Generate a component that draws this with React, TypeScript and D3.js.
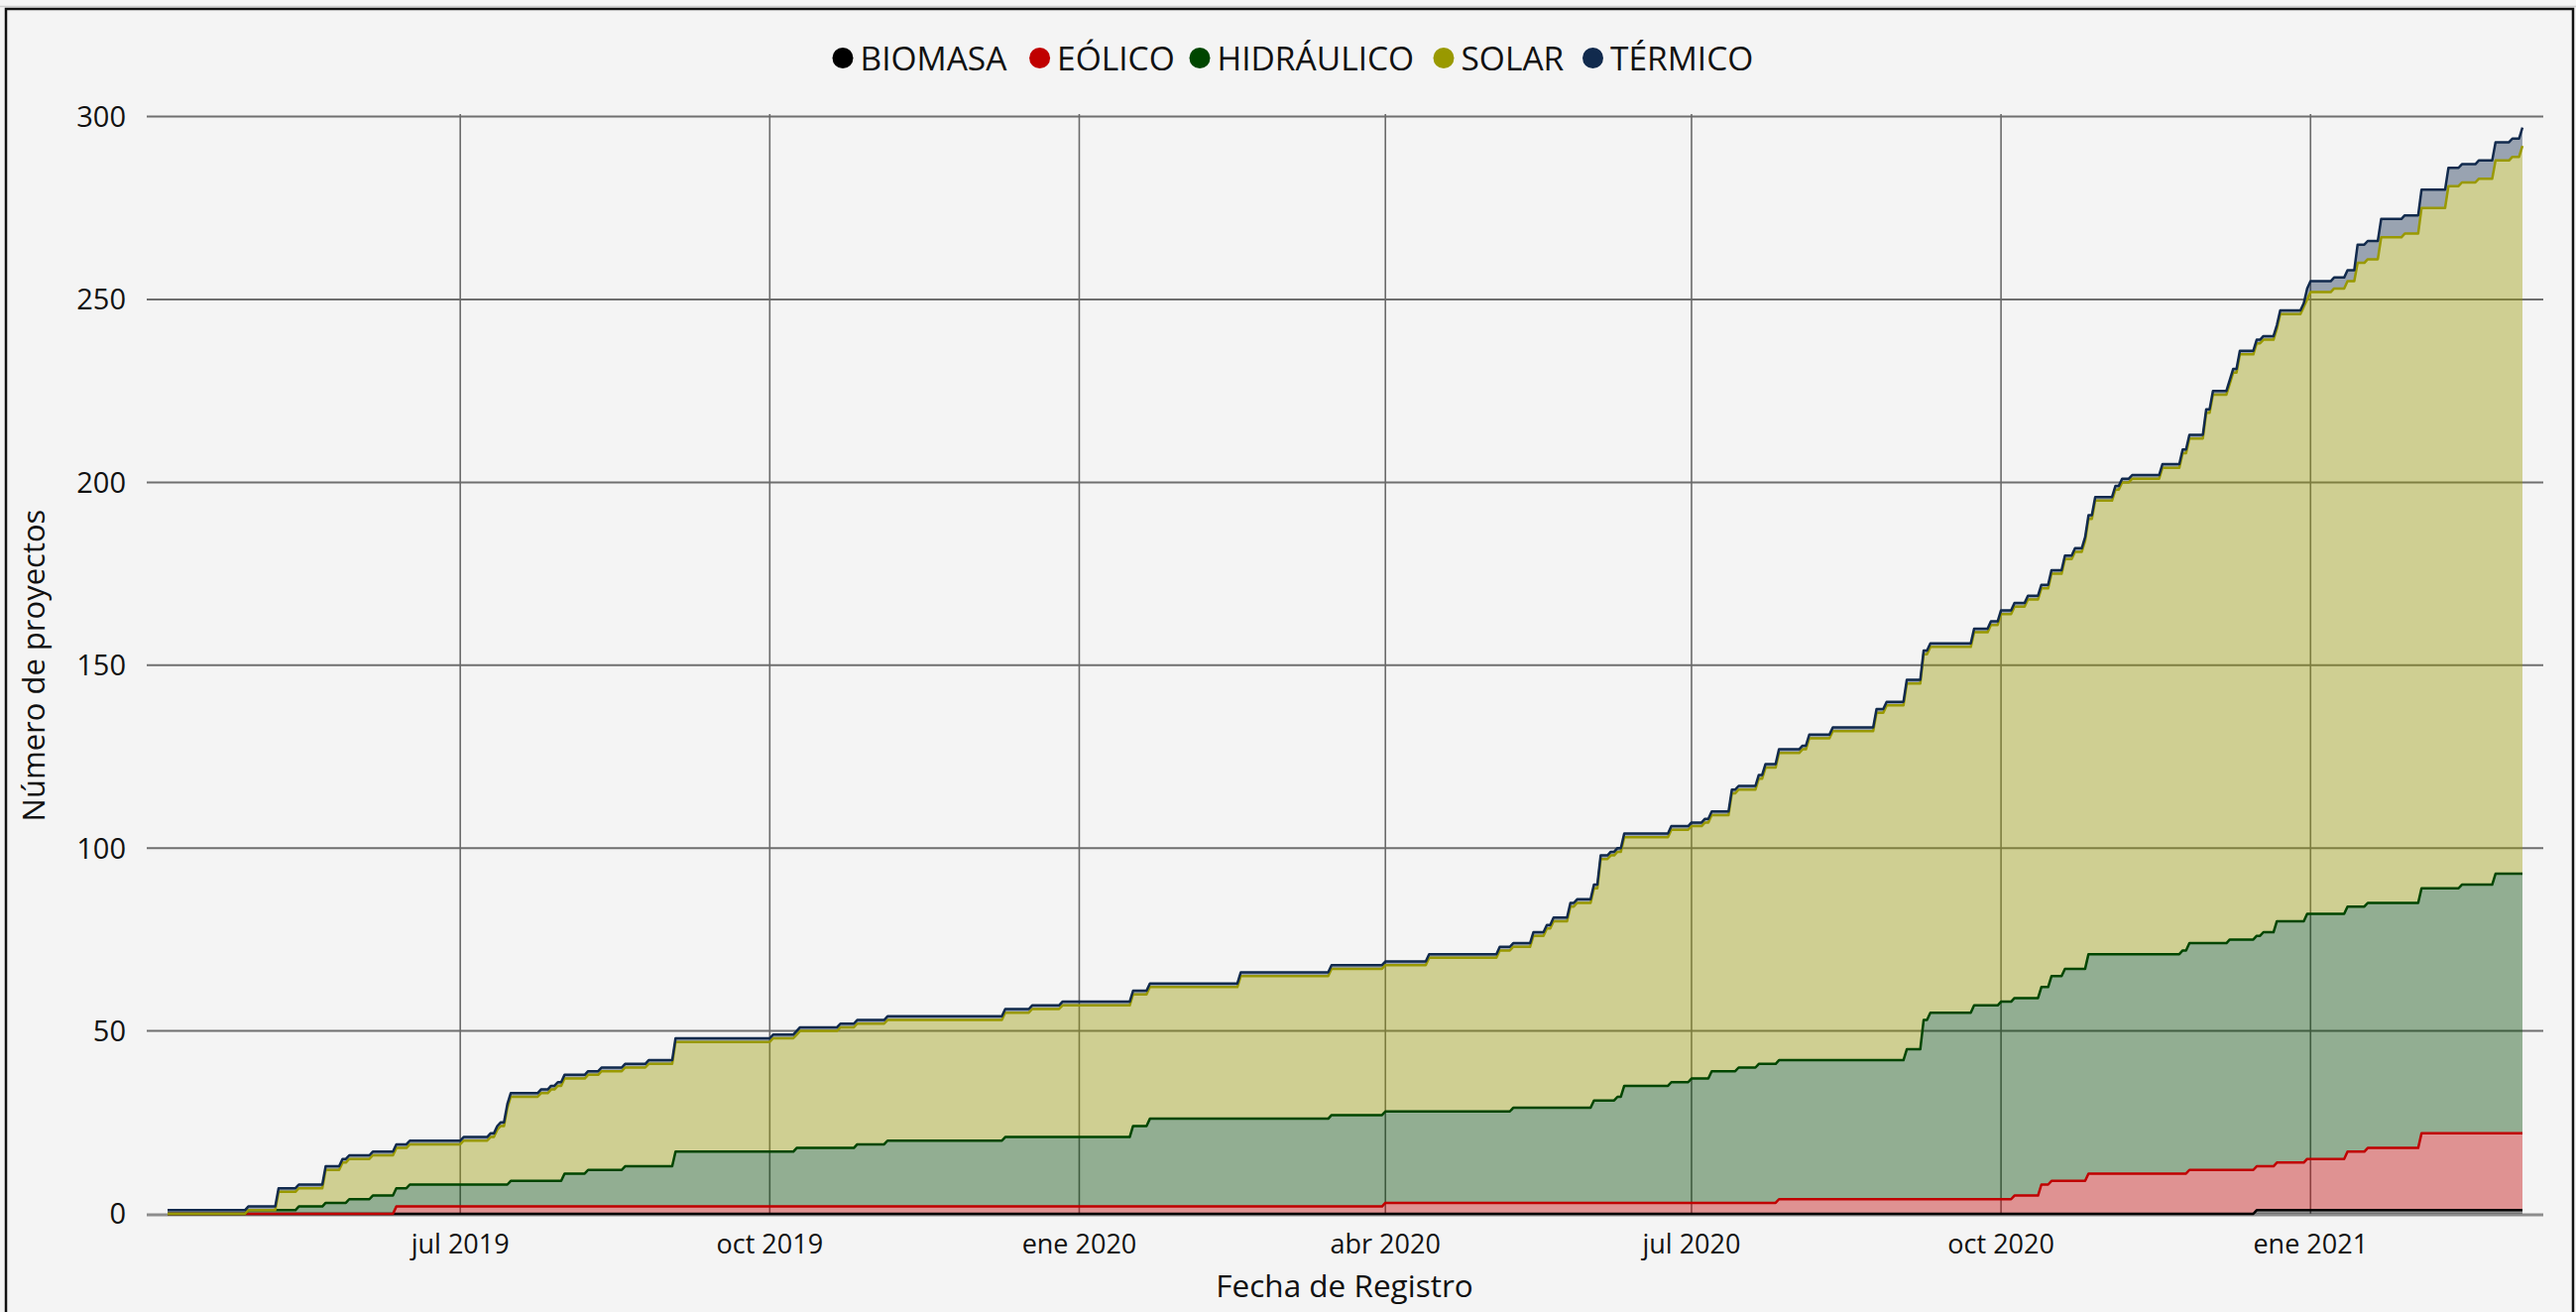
import React from "react";
import * as d3 from "d3";

// ---------- DATA (cumulative number of registered projects per technology) ----------
const SERIES = ["BIOMASA", "EÓLICO", "HIDRÁULICO", "SOLAR", "TÉRMICO"];
const COLORS = ["#000000", "#c00000", "#004600", "#999900", "#112a4d"];

const BIOMASA: [string, number][] = [
  ["2019-04-05", 0], ["2020-12-16", 1],
];

const EOLICO: [string, number][] = [
  ["2019-04-05", 0], ["2019-06-12", 2], ["2020-04-01", 3], ["2020-07-27", 4],
  ["2020-10-05", 5], ["2020-10-13", 8], ["2020-10-16", 9], ["2020-10-27", 11],
  ["2020-11-26", 12], ["2020-12-22", 13], ["2020-12-31", 14], ["2021-01-12", 16],
  ["2021-01-18", 17], ["2021-02-03", 21],
];

const HIDRAULICO: [string, number][] = [
  ["2019-04-05", 0], ["2019-04-29", 1], ["2019-05-14", 2], ["2019-05-22", 3],
  ["2019-05-29", 4], ["2019-06-05", 5], ["2019-06-16", 6], ["2019-07-16", 7],
  ["2019-08-01", 9], ["2019-08-08", 10], ["2019-08-19", 11], ["2019-09-03", 15],
  ["2019-10-09", 16], ["2019-10-27", 17], ["2019-11-05", 18], ["2019-12-10", 19],
  ["2020-01-17", 22], ["2020-01-22", 24], ["2020-03-16", 25], ["2020-05-09", 26],
  ["2020-06-02", 28], ["2020-06-09", 29], ["2020-06-11", 32], ["2020-06-25", 33],
  ["2020-07-01", 34], ["2020-07-07", 36], ["2020-07-15", 37], ["2020-07-21", 38],
  ["2020-09-03", 41], ["2020-09-08", 49], ["2020-09-10", 51], ["2020-09-23", 53],
  ["2020-10-01", 54], ["2020-10-16", 56], ["2020-10-20", 58], ["2020-10-27", 60],
  ["2020-11-24", 61], ["2020-11-26", 62], ["2020-12-08", 63], ["2020-12-18", 64],
  ["2020-12-22", 66], ["2020-12-31", 67], ["2021-02-15", 68], ["2021-02-25", 71],
];

const SOLAR: [string, number][] = [
  ["2019-04-05", 0], ["2019-05-08", 5], ["2019-05-22", 9], ["2019-05-27", 11],
  ["2019-07-02", 12], ["2019-07-10", 13], ["2019-07-12", 15], ["2019-07-13", 16],
  ["2019-07-15", 21], ["2019-07-16", 23], ["2019-07-25", 24], ["2019-07-28", 25],
  ["2019-07-30", 26], ["2019-08-12", 27], ["2019-08-26", 28], ["2019-09-03", 30],
  ["2019-10-02", 31], ["2019-10-10", 32], ["2019-10-22", 33], ["2019-12-10", 34],
  ["2019-12-18", 35], ["2019-12-27", 36], ["2020-02-18", 39], ["2020-03-16", 40],
  ["2020-04-14", 42], ["2020-05-05", 44], ["2020-05-15", 47], ["2020-05-19", 49],
  ["2020-05-21", 51], ["2020-05-26", 55], ["2020-05-28", 56], ["2020-06-02", 58],
  ["2020-06-04", 66], ["2020-06-07", 67], ["2020-06-11", 68], ["2020-06-25", 69],
  ["2020-07-05", 70], ["2020-07-13", 76], ["2020-07-21", 78], ["2020-07-23", 81],
  ["2020-07-27", 84], ["2020-08-03", 85], ["2020-08-05", 88], ["2020-08-12", 90],
  ["2020-08-25", 95], ["2020-08-28", 97], ["2020-09-03", 100], ["2020-09-23", 102],
  ["2020-09-28", 104], ["2020-10-01", 106], ["2020-10-05", 107], ["2020-10-09", 109],
  ["2020-10-16", 110], ["2020-10-20", 112], ["2020-10-23", 114], ["2020-10-26", 117],
  ["2020-10-27", 119], ["2020-10-29", 124], ["2020-11-04", 127], ["2020-11-06", 129],
  ["2020-11-09", 130], ["2020-11-18", 133], ["2020-11-24", 136], ["2020-11-26", 138],
  ["2020-12-01", 145], ["2020-12-03", 150], ["2020-12-08", 152], ["2020-12-09", 155],
  ["2020-12-11", 160], ["2020-12-16", 162], ["2020-12-23", 166], ["2020-12-30", 168],
  ["2021-01-01", 170], ["2021-01-08", 171], ["2021-01-15", 176], ["2021-01-22", 182],
  ["2021-01-29", 183], ["2021-02-03", 186], ["2021-02-11", 192], ["2021-02-20", 193],
  ["2021-02-25", 195], ["2021-03-02", 196], ["2021-03-05", 199],
];

const TERMICO: [string, number][] = [
  ["2019-04-05", 1], ["2020-12-31", 3], ["2021-01-15", 5],
];

const END_DATE = "2021-03-05";

const X_TICKS = ["2019-07-01", "2019-10-01", "2020-01-01", "2020-04-01", "2020-07-01", "2020-10-01", "2021-01-01"];
const X_TICK_LABELS = ["jul 2019", "oct 2019", "ene 2020", "abr 2020", "jul 2020", "oct 2020", "ene 2021"];
const Y_TICKS = [0, 50, 100, 150, 200, 250, 300];

// ---------- build table ----------
const parse = d3.utcParse("%Y-%m-%d");
const SERIES_DATA = [BIOMASA, EOLICO, HIDRAULICO, SOLAR, TERMICO];

function buildRows() {
  const set = new Set<number>();
  SERIES_DATA.forEach((s) =>
    s.forEach(([d], i) => {
      const t = parse(d)!.getTime();
      set.add(t);
      if (i > 0) set.add(d3.utcDay.offset(new Date(t), -1).getTime());
    })
  );
  set.add(parse(END_DATE)!.getTime());
  const times = Array.from(set).sort((a, b) => a - b);
  const valueAt = (s: [string, number][], t: number) => {
    let v = 0;
    for (const [d, val] of s) {
      if (parse(d)!.getTime() <= t) v = val;
      else break;
    }
    return v;
  };
  return times.map((t) => {
    const r: any = { date: new Date(t) };
    SERIES.forEach((k, i) => (r[k] = valueAt(SERIES_DATA[i], t)));
    return r;
  });
}

const W = 2598;
const H = 1323;
const FONT = "'Open Sans', sans-serif";

export default function App() {
  const rows = buildRows();
  const stacked = d3.stack<any>().keys(SERIES)(rows);

  const x = d3
    .scaleUtc()
    .domain([parse("2019-04-05")!, parse(END_DATE)!])
    .range([169, 2544]);
  const y = d3.scaleLinear().domain([0, 300]).range([1224, 117.6]);

  const area = d3
    .area<any>()
    .x((d) => x(d.data.date))
    .y0((d) => y(d[0]))
    .y1((d) => y(d[1]));
  const line = d3
    .line<any>()
    .x((d) => x(d.data.date))
    .y((d) => y(d[1]));

  const plotLeft = 148;
  const plotRight = 2565;

  const legendDotX = [850, 1048.6, 1210, 1456, 1606.5];

  return (
    <svg
      width={W}
      height={H}
      style={{ position: "absolute", left: 0, top: 0, display: "block" }}
      fontFamily={FONT}
    >
      <rect x={0} y={0} width={W} height={H} fill="#f4f4f4" />
      <line x1={0} x2={W} y1={6.5} y2={6.5} stroke="#cfcfcf" strokeWidth={1.5} />
      <rect x={6} y={9} width={2589} height={1340} fill="none" stroke="#111" strokeWidth={2.5} />

      {/* horizontal gridlines */}
      {Y_TICKS.map((t) =>
        t === 0 ? null : (
          <line key={"hg" + t} x1={plotLeft} x2={plotRight} y1={y(t)} y2={y(t)} stroke="#6f6f6f" strokeWidth={2} />
        )
      )}
      {/* vertical gridlines */}
      {X_TICKS.map((t) => (
        <line
          key={"vg" + t}
          x1={x(parse(t)!)}
          x2={x(parse(t)!)}
          y1={115}
          y2={1224}
          stroke="#6a6a6a"
          strokeWidth={1.6}
        />
      ))}
      {/* zero line */}
      <line x1={plotLeft} x2={plotRight} y1={y(0) + 1} y2={y(0) + 1} stroke="#8c8c8c" strokeWidth={3} />

      {/* stacked areas */}
      {stacked.map((layer, i) => (
        <path key={"a" + i} d={area(layer as any) || ""} fill={COLORS[i]} fillOpacity={0.4} stroke="none" />
      ))}
      {/* lines */}
      {stacked.map((layer, i) => (
        <path
          key={"l" + i}
          d={line(layer as any) || ""}
          fill="none"
          stroke={COLORS[i]}
          strokeWidth={2.5}
          strokeLinejoin="round"
        />
      ))}

      {/* y ticks */}
      {Y_TICKS.map((t) => (
        <text key={"yt" + t} x={127} y={y(t)} dy="0.36em" textAnchor="end" fontSize={29} fill="#111">
          {t}
        </text>
      ))}
      {/* x ticks */}
      {X_TICKS.map((t, i) => (
        <text key={"xt" + t} x={x(parse(t)!)} y={1263.5} textAnchor="middle" fontSize={27} fill="#111">
          {X_TICK_LABELS[i]}
        </text>
      ))}

      {/* axis titles */}
      <text x={1356} y={1308} textAnchor="middle" fontSize={31.5} fill="#111">
        Fecha de Registro
      </text>
      <text transform="translate(45,671) rotate(-90)" textAnchor="middle" fontSize={31} fill="#111">
        Número de proyectos
      </text>

      {/* legend */}
      {SERIES.map((s, i) => (
        <g key={"lg" + s}>
          <circle cx={legendDotX[i]} cy={58.5} r={10.5} fill={COLORS[i]} />
          <text x={legendDotX[i] + 17.5} y={71} fontSize={33.5} fill="#111">
            {s}
          </text>
        </g>
      ))}
    </svg>
  );
}
